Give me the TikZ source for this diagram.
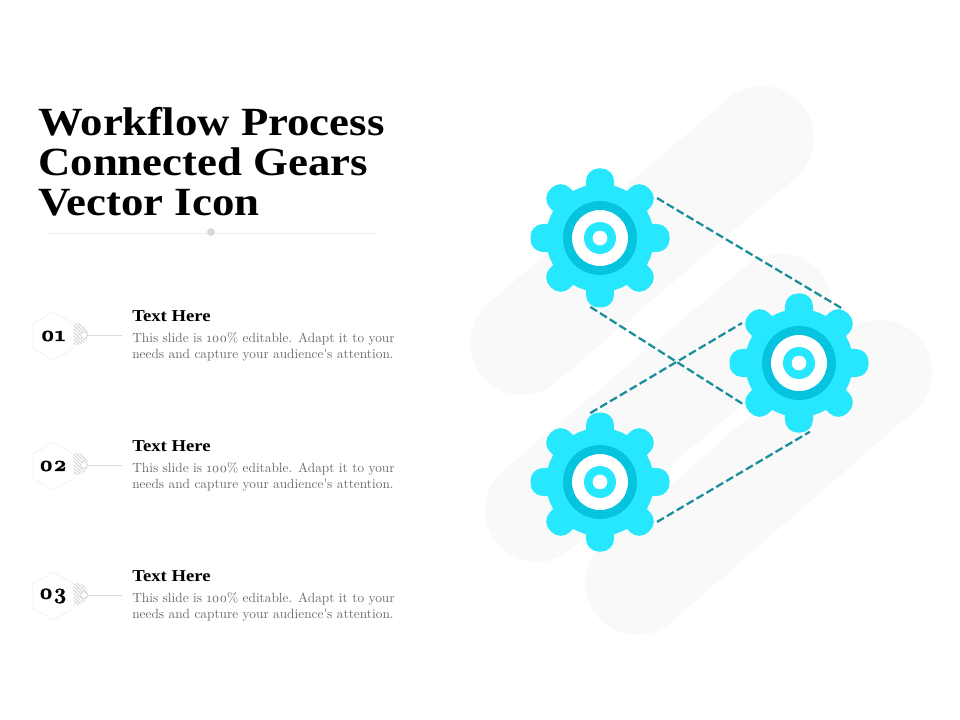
\documentclass[tikz,border=0pt]{standalone}
\usepackage{xcolor}
\usepackage{fontspec}
\usetikzlibrary{shapes.geometric,patterns.meta}
\setmainfont{Liberation Serif}
\newfontfamily\gras[FakeStretch=1.12]{Liberation Serif}
\newfontfamily\chiffres[Numbers=OldStyle,BoldFeatures={FakeBold=1.5}]{Latin Modern Roman}
\definecolor{cyanroue}{HTML}{27E7FF}
\definecolor{cyananneau}{HTML}{06C4E0}
\definecolor{sarcelle}{HTML}{1A8E9C}
\definecolor{fond}{HTML}{F9F9F9}
\definecolor{filet}{HTML}{EDEDED}

\begin{document}
\begin{tikzpicture}[x=0.75pt,y=-0.75pt]
% Styles
\tikzstyle{bande}=[fond,line width=78pt,line cap=round]
\tikzstyle{roue}=[circle,minimum size=104pt,inner sep=0pt]
\tikzstyle{dent}=[fill=cyanroue,rounded corners=9pt]
\tikzstyle{pointilles}=[sarcelle,line width=1.7pt,dash pattern=on 6pt off 2.6pt]
\tikzstyle{titre}=[anchor=north west,align=left,inner sep=0pt,font=\gras\fontsize{30}{30}\selectfont\bfseries]
\tikzstyle{hexagone}=[regular polygon,regular polygon sides=6,shape border rotate=30,minimum size=36pt,inner sep=0pt,draw=filet,fill=white,font=\chiffres\fontsize{16.5}{16.5}\selectfont\bfseries]
\tikzstyle{hachure}=[circle,minimum size=16.5pt,inner sep=0pt,pattern={Lines[angle=135,distance=1.8pt,line width=0.5pt]},pattern color=gray!45]
\tikzstyle{point}=[circle,minimum size=5pt,inner sep=0pt,draw=gray!40,fill=white]
\tikzstyle{filetgris}=[gray!30,line width=0.6pt]
\tikzstyle{tete}=[anchor=base west,inner sep=0pt,font=\gras\fontsize{12.5}{12.5}\selectfont\bfseries]
\tikzstyle{corps}=[anchor=north west,align=left,inner sep=0pt,text=black!58,font=\chiffres\fontsize{10}{12}\selectfont]
% Bandes du fond
\useasboundingbox (0,0) rectangle (960,720);
\draw[bande] (762,138)--(522,343);
\draw[bande] (780,305)--(537,510);
\draw[bande] (880,372)--(637,583);
% Roues
\foreach \nom/\cx/\cy in {R1/600/238,R2/799/363,R3/600/482}{
  \node[roue] (\nom) at (\cx,\cy) {};
  \foreach \angle in {0,45,...,315}{
    \path[dent,shift={(\nom.center)},rotate=\angle] (30,-15)--(69.5,-13.5)--(69.5,13.5)--(30,15)--cycle;
  }
  \fill[cyanroue] (\nom) circle (40.5pt);
  \fill[cyananneau] (\nom) circle (27.75pt);
  \fill[white] (\nom) circle (21pt);
  \fill[cyanroue] (\nom) circle (12pt);
  \fill[white] (\nom) circle (5.5pt);
}
% Arcs
\draw[pointilles] (R1.35)--(R2.51);
\draw[pointilles] (R1.262)--(R2.216);
\draw[pointilles] (R3.98)--(R2.145);
\draw[pointilles] (R3.-35)--(R2.279);
% Titre
\node[titre] (T) at (38,107.5) {Workflow Process\\Connected Gears\\Vector Icon};
\coordinate (Ta) at (48,233);
\coordinate (Tb) at (376,233);
\draw[filet,line width=0.5pt] (Ta)--(Tb);
\node[circle,fill=gray!30,minimum size=6pt,inner sep=0pt] (Tc) at (211,232) {};
% Lignes
\foreach \i/\num/\y in {1/01/0,2/02/130,3/03/260}{
  \node[hachure] (H\i) at (77,334+\y) {};
  \node[hexagone] (N\i) at (53,336+\y) {\num};
  \node[point] (P\i) at (84,335+\y) {};
  \coordinate (F\i) at (122,335+\y);
  \draw[filetgris] (P\i)--(F\i);
  \node[tete] (E\i) at (132,321+\y) {Text Here};
  \node[corps] (C\i) at (132,332+\y) {This slide is 100\% editable. Adapt it to your\\needs and capture your audience's attention.};
}
\end{tikzpicture}
\end{document}
